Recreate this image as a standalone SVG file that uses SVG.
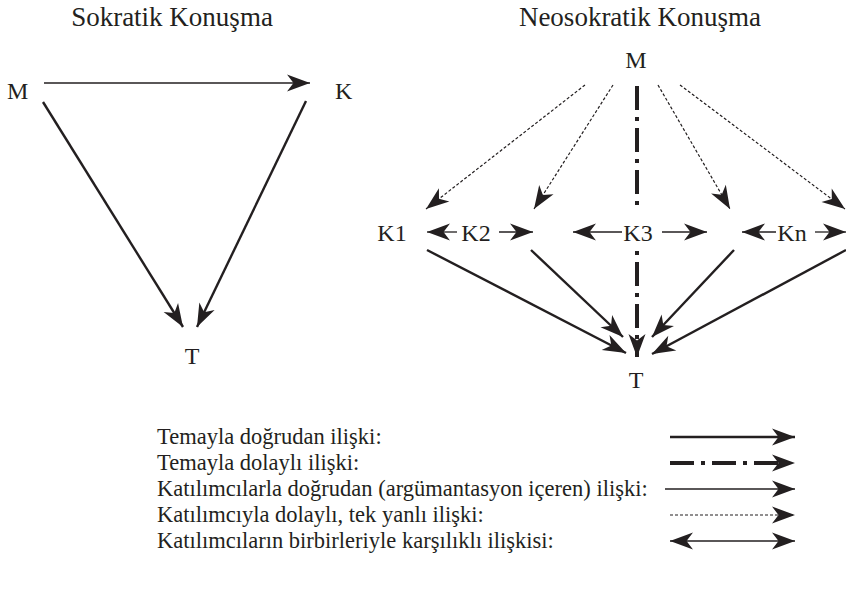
<svg xmlns="http://www.w3.org/2000/svg" width="846" height="592" viewBox="0 0 846 592">
<defs>
<marker id="ah" markerUnits="userSpaceOnUse" markerWidth="26" markerHeight="20" viewBox="-24 -10 26 20" refX="0" refY="0" orient="auto-start-reverse">
<path d="M0,0 L-23,-8.5 L-16.5,0 L-23,8.5 Z" fill="#231f20"/>
</marker>
</defs>
<style>
text{font-family:"Liberation Serif","Times New Roman",serif;fill:#231f20}
.title{font-size:27px;text-anchor:middle}
.lbl{font-size:24px}
.mid{text-anchor:middle}
.leg{font-size:22.5px}
.thick{stroke:#231f20;stroke-width:2.4;fill:none}
.thin{stroke:#231f20;stroke-width:1.3;fill:none}
.dot{stroke:#231f20;stroke-width:1.2;fill:none;stroke-dasharray:3 2}
.dd{stroke:#231f20;stroke-width:4;fill:none;stroke-dasharray:24 7 4 7}
</style>
<rect width="846" height="592" fill="#fff"/>
<text class="title" x="172" y="26">Sokratik Konuşma</text>
<text class="title" x="640" y="26">Neosokratik Konuşma</text>

<g id="left-M"><text class="lbl" x="7" y="99">M</text></g>
<g id="left-K"><text class="lbl" x="335" y="99">K</text></g>
<g id="left-T"><text class="lbl mid" x="192" y="364">T</text></g>

<g id="right-M"><text class="lbl mid" x="636" y="68">M</text></g>
<g id="K1"><text class="lbl mid" x="392" y="241">K1</text></g>
<g id="K2"><text class="lbl mid" x="476" y="241">K2</text></g>
<g id="K3"><text class="lbl mid" x="638" y="241">K3</text></g>
<g id="Kn"><text class="lbl mid" x="792" y="241">Kn</text></g>
<g id="right-T"><text class="lbl mid" x="636" y="388">T</text></g>

<g id="connectors">
<line class="thin" x1="44" y1="83" x2="310" y2="83" marker-end="url(#ah)"/>
<line class="thick" x1="43" y1="102" x2="183" y2="327" marker-end="url(#ah)"/>
<line class="thick" x1="306" y1="101" x2="197" y2="327" marker-end="url(#ah)"/>

<line class="dot" x1="585" y1="85" x2="426" y2="209" marker-end="url(#ah)"/>
<line class="dot" x1="613" y1="85" x2="534" y2="209" marker-end="url(#ah)"/>
<line class="dot" x1="658" y1="85" x2="730" y2="209" marker-end="url(#ah)"/>
<line class="dot" x1="680" y1="85" x2="845" y2="209" marker-end="url(#ah)"/>
<line class="dd" x1="637" y1="86" x2="637" y2="206"/>

<line class="thin" x1="457" y1="232" x2="427" y2="232" marker-end="url(#ah)"/>
<line class="thin" x1="499" y1="232" x2="533" y2="232" marker-end="url(#ah)"/>
<line class="thin" x1="622" y1="232" x2="573" y2="232" marker-end="url(#ah)"/>
<line class="thin" x1="662" y1="232" x2="707" y2="232" marker-end="url(#ah)"/>
<line class="thin" x1="776" y1="232" x2="742" y2="232" marker-end="url(#ah)"/>
<line class="thin" x1="815" y1="232" x2="846" y2="232" marker-end="url(#ah)"/>

<line class="thick" x1="427" y1="250" x2="626" y2="353" marker-end="url(#ah)"/>
<line class="thick" x1="531" y1="250" x2="623" y2="337" marker-end="url(#ah)"/>
<line class="dd" x1="637" y1="250" x2="637" y2="357" stroke-dashoffset="30" marker-end="url(#ah)"/>
<line class="thick" x1="734" y1="250" x2="652" y2="337" marker-end="url(#ah)"/>
<line class="thick" x1="846" y1="250" x2="652" y2="354" marker-end="url(#ah)"/>

<line class="thick" x1="670" y1="437" x2="795" y2="437" marker-end="url(#ah)"/>
<line class="dd" x1="670" y1="463" x2="795" y2="463" marker-end="url(#ah)"/>
<line class="thin" x1="665" y1="489" x2="795" y2="489" marker-end="url(#ah)"/>
<line class="dot" x1="670" y1="515" x2="795" y2="515" marker-end="url(#ah)"/>
<line class="thin" x1="670" y1="541" x2="795" y2="541" marker-start="url(#ah)" marker-end="url(#ah)"/>
</g>

<g id="legend">
<text class="leg" x="157" y="444">Temayla doğrudan ilişki:</text>
<text class="leg" x="157" y="470">Temayla dolaylı ilişki:</text>
<text class="leg" x="157" y="496">Katılımcılarla doğrudan (argümantasyon içeren) ilişki:</text>
<text class="leg" x="157" y="522">Katılımcıyla dolaylı, tek yanlı ilişki:</text>
<text class="leg" x="157" y="548">Katılımcıların birbirleriyle karşılıklı ilişkisi:</text>
</g>
</svg>
